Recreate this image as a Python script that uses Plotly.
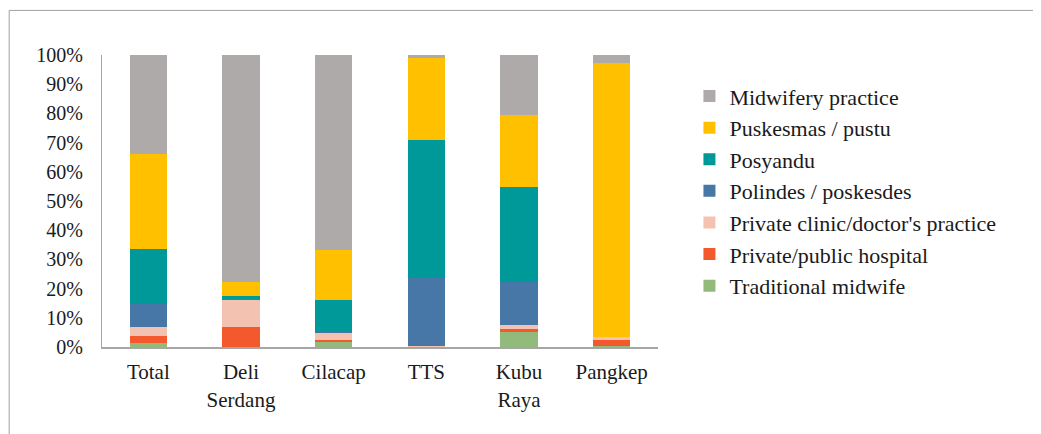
import plotly.graph_objects as go

categories = ["Total", "Deli<br>Serdang", "Cilacap", "TTS", "Kubu<br>Raya", "Pangkep"]

traditional_midwife = [1.5, 0.0, 1.9, 0.0, 5.2, 0.5]
hospital = [2.1, 7.0, 0.6, 0.0, 0.9, 1.8]
private_clinic = [3.1, 9.4, 2.5, 0.5, 1.3, 1.0]
polindes = [8.0, 0.2, 0.2, 23.1, 14.8, 0.0]
posyandu = [18.9, 1.0, 10.9, 47.4, 32.6, 0.0]
puskesmas = [32.6, 4.8, 17.0, 28.0, 24.6, 94.1]
midwifery = [33.8, 77.6, 67.0, 1.0, 20.6, 2.6]

series_names = ["Traditional midwife", "Private/public hospital",
                "Private clinic/doctor's practice", "Polindes / poskesdes",
                "Posyandu", "Puskesmas / pustu", "Midwifery practice"]
series_values = [traditional_midwife, hospital, private_clinic, polindes,
                 posyandu, puskesmas, midwifery]
colors = ["#92BA7B", "#F4592E", "#F4C2B1", "#4677A7", "#009999", "#FFC000", "#AEAAAA"]

fig = go.Figure()
for name, vals, col in zip(series_names, series_values, colors):
    fig.add_trace(go.Bar(
        x=categories, y=[v / 100 for v in vals], name=name,
        marker=dict(color=col, line=dict(width=0)),
    ))

FONT = "'Liberation Serif', 'DejaVu Serif', serif"
L, R, T, B = 93.5, 390.5, 46.7, 94.7
W, H = 1041, 434
pw = W - L - R
ph = H - T - B

fig.update_layout(
    barmode="stack",
    bargap=0.6,
    width=W, height=H,
    margin=dict(l=L, r=R, t=T, b=B, autoexpand=False),
    paper_bgcolor="white", plot_bgcolor="white",
    font=dict(family=FONT, size=21, color="#1a1a1a"),
    legend=dict(
        traceorder="reversed",
        x=1.0 + (682 - (L + pw)) / pw, xanchor="left",
        y=1 - (67 - T) / ph, yanchor="top",
        font=dict(family=FONT, size=22, color="#1a1a1a"),
        itemwidth=30,
    ),
    xaxis=dict(
        showline=True, linecolor="#a6a6a6", linewidth=2,
        ticks="", tickfont=dict(family=FONT, size=21),
        showgrid=False, ticklabelstandoff=5,
    ),
    yaxis=dict(
        range=[0, 1], tickformat=".0%", dtick=0.1,
        showline=True, linecolor="#a6a6a6", linewidth=1,
        ticks="", showgrid=False, zeroline=False,
        tickfont=dict(family=FONT, size=20),
        ticklabelstandoff=14,
    ),
    shapes=[dict(type="rect", xref="paper", yref="paper",
                 x0=(0.5 - L) / pw, x1=(1027 - L) / pw,
                 y0=-(430 - (T + ph)) / ph, y1=1 + (T - 2) / ph,
                 line=dict(color="#a0a0a0", width=1), layer="below")],
)

fig.write_html("out.html")
